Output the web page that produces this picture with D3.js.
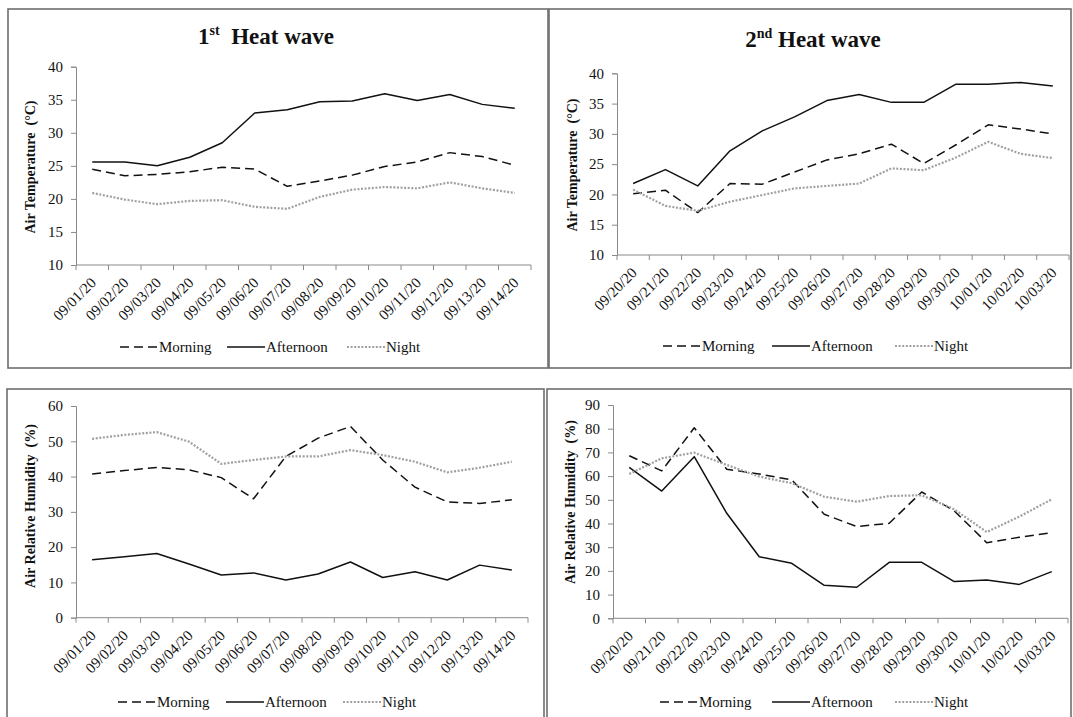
<!DOCTYPE html>
<html>
<head>
<meta charset="utf-8">
<script src="https://cdn.jsdelivr.net/npm/d3@7/dist/d3.min.js"></script>
<style>
  html, body { margin: 0; padding: 0; background: #fff; }
  svg { display: block; }
  svg text { font-family: "Liberation Serif", "Times New Roman", serif; fill: #111; }
</style>
</head>
<body>
<svg id="chart" width="1073" height="717" font-family="Liberation Serif, serif"></svg>
<script>
// Dates of the two heat waves
const dates1 = ["09/01/20","09/02/20","09/03/20","09/04/20","09/05/20","09/06/20","09/07/20",
                "09/08/20","09/09/20","09/10/20","09/11/20","09/12/20","09/13/20","09/14/20"];
const dates2 = ["09/20/20","09/21/20","09/22/20","09/23/20","09/24/20","09/25/20","09/26/20",
                "09/27/20","09/28/20","09/29/20","09/30/20","10/01/20","10/02/20","10/03/20"];

// Air temperature (°C), 1st heat wave
const temp1Morning   = [24.5, 23.5, 23.7, 24.1, 24.8, 24.5, 21.9, 22.7, 23.6, 24.9, 25.6, 27.0, 26.4, 25.1];
const temp1Afternoon = [25.6, 25.6, 25.0, 26.3, 28.5, 33.0, 33.5, 34.7, 34.8, 35.9, 34.9, 35.8, 34.3, 33.7];
const temp1Night     = [20.9, 19.9, 19.2, 19.7, 19.8, 18.8, 18.5, 20.3, 21.4, 21.8, 21.6, 22.5, 21.6, 20.9];

// Air temperature (°C), 2nd heat wave
const temp2Morning   = [20.1, 20.7, 17.0, 21.8, 21.7, 23.7, 25.7, 26.7, 28.3, 25.1, 28.2, 31.5, 30.8, 30.0];
const temp2Afternoon = [21.8, 24.1, 21.4, 27.2, 30.5, 32.8, 35.5, 36.5, 35.2, 35.2, 38.2, 38.2, 38.5, 37.9];
const temp2Night     = [20.8, 18.1, 17.3, 18.8, 19.9, 21.0, 21.4, 21.8, 24.3, 24.0, 26.1, 28.7, 26.7, 26.0];

// Air relative humidity (%), 1st heat wave
const rh1Morning   = [40.7, 41.7, 42.6, 41.9, 39.7, 33.7, 45.7, 50.9, 54.2, 44.7, 37.0, 32.8, 32.4, 33.4];
const rh1Afternoon = [16.4, 17.3, 18.2, 15.2, 12.1, 12.7, 10.7, 12.4, 15.8, 11.4, 13.0, 10.7, 14.9, 13.5];
const rh1Night     = [50.7, 51.8, 52.6, 49.9, 43.6, 44.7, 45.7, 45.7, 47.5, 46.1, 44.2, 41.2, 42.5, 44.2];

// Air relative humidity (%), 2nd heat wave
const rh2Morning   = [68.6, 62.2, 80.4, 62.9, 60.9, 58.4, 43.9, 38.7, 40.1, 53.3, 45.3, 31.9, 34.2, 36.1];
const rh2Afternoon = [63.7, 53.7, 68.2, 44.3, 26.0, 23.2, 13.9, 13.1, 23.6, 23.6, 15.5, 16.2, 14.3, 19.7];
const rh2Night     = [60.9, 67.5, 69.9, 64.7, 59.8, 57.0, 51.3, 49.2, 51.6, 51.9, 46.0, 36.4, 42.9, 50.2];

// Y tick values
const tempTicks = [10, 15, 20, 25, 30, 35, 40];
const rh1Ticks  = [0, 10, 20, 30, 40, 50, 60];
const rh2Ticks  = [0, 10, 20, 30, 40, 50, 60, 70, 80, 90];

const seriesNames = ["Morning", "Afternoon", "Night"];

const SERIF = '"Liberation Serif", "Times New Roman", serif';

// Line styles for the three times of day
const styles = {
  Morning:   { stroke: "#111", width: 1.5, dash: "9,5" },
  Afternoon: { stroke: "#111", width: 1.5, dash: null },
  Night:     { stroke: "#a0a0a0", width: 2.2, dash: "2,1.6" }
};

const svg = d3.select("#chart");

const panels = [
  { box: [8, 9, 548, 368], dates: dates1, series: [temp1Morning, temp1Afternoon, temp1Night],
    ticks: tempTicks, domain: [10, 40], plot: { x0: 76, x1: 531, yTop: 66.7, yBot: 265 },
    title: ["1", "st", "  Heat wave"], titleX: 266, titleY: 44,
    ylabel: "Air Temperature  (°C)", ylabelX: 35, ylabelY: 167,
    legendY: 347, legendX: [120, 227, 347] },
  { box: [549, 9, 1071, 368], dates: dates2, series: [temp2Morning, temp2Afternoon, temp2Night],
    ticks: tempTicks, domain: [10, 40], plot: { x0: 617, x1: 1069, yTop: 73.3, yBot: 255 },
    title: ["2", "nd", " Heat wave"], titleX: 813, titleY: 47,
    ylabel: "Air Temperature  (°C)", ylabelX: 577, ylabelY: 165,
    legendY: 346, legendX: [663, 772, 895] },
  { box: [7, 389, 544, 720], dates: dates1, series: [rh1Morning, rh1Afternoon, rh1Night],
    ticks: rh1Ticks, domain: [0, 60], plot: { x0: 76, x1: 528, yTop: 406, yBot: 617.7 },
    title: null,
    ylabel: "Air Relative Humidity  (%)", ylabelX: 35, ylabelY: 506,
    legendY: 702, legendX: [118, 226, 343] },
  { box: [547, 389, 1071, 720], dates: dates2, series: [rh2Morning, rh2Afternoon, rh2Night],
    ticks: rh2Ticks, domain: [0, 90], plot: { x0: 613, x1: 1068, yTop: 405, yBot: 618.3 },
    title: null,
    ylabel: "Air Relative Humidity  (%)", ylabelX: 575, ylabelY: 502,
    legendY: 702, legendX: [660, 772, 895] }
];

panels.forEach(p => {
  const g = svg.append("g").attr("font-family", SERIF);

  // Panel frame
  g.append("rect")
    .attr("x", p.box[0]).attr("y", p.box[1])
    .attr("width", p.box[2] - p.box[0]).attr("height", p.box[3] - p.box[1])
    .attr("fill", "#fff").attr("stroke", "#6e6e6e").attr("stroke-width", 1.6);

  const x = d3.scaleBand().domain(p.dates).range([p.plot.x0, p.plot.x1]);
  const y = d3.scaleLinear().domain(p.domain).range([p.plot.yBot, p.plot.yTop]);
  const cx = d => x(d) + x.bandwidth() / 2;

  // Y axis
  const yAxis = g.append("g")
    .attr("transform", `translate(${p.plot.x0},0)`)
    .call(d3.axisLeft(y).tickValues(p.ticks).tickSize(5).tickPadding(8).tickFormat(d3.format("d")))
    .attr("font-family", SERIF).attr("font-size", 15);
  yAxis.select(".domain").attr("stroke", "#8a8a8a");
  yAxis.selectAll(".tick line").attr("stroke", "#8a8a8a");
  yAxis.selectAll(".tick text")
    .style("font-family", SERIF).style("font-size", "15px").attr("fill", "#111");

  // X axis line with ticks on band boundaries
  const xAxis = g.append("g").attr("transform", `translate(0,${p.plot.yBot})`);
  xAxis.append("line")
    .attr("x1", p.plot.x0).attr("x2", p.plot.x1)
    .attr("stroke", "#8a8a8a");
  const bounds = p.dates.map(d => x(d)).concat([x.range()[1]]);
  xAxis.selectAll("line.tk").data(bounds).join("line").attr("class", "tk")
    .attr("x1", d => d).attr("x2", d => d).attr("y1", 0).attr("y2", 5)
    .attr("stroke", "#8a8a8a");
  xAxis.selectAll("text.lbl").data(p.dates).join("text").attr("class", "lbl")
    .attr("transform", d => `translate(${cx(d) + 1},15) rotate(-45)`)
    .attr("text-anchor", "end").attr("dy", "0.35em")
    .style("font-family", SERIF).style("font-size", "15px")
    .text(d => d);

  // Series lines
  const line = d3.line().x((v, i) => cx(p.dates[i])).y(v => y(v));
  seriesNames.forEach((name, k) => {
    const s = styles[name];
    g.append("path")
      .datum(p.series[k])
      .attr("d", line)
      .attr("fill", "none")
      .attr("stroke", s.stroke)
      .attr("stroke-width", s.width)
      .attr("stroke-dasharray", s.dash)
      .attr("stroke-linejoin", "round");
  });

  // Title with superscript ordinal
  if (p.title) {
    const t = g.append("text")
      .attr("x", p.titleX).attr("y", p.titleY)
      .attr("text-anchor", "middle")
      .attr("xml:space", "preserve")
      .style("font-family", SERIF)
      .style("font-weight", "bold").style("font-size", "23px");
    t.append("tspan").text(p.title[0]);
    t.append("tspan").attr("dy", -9).style("font-size", "14px").text(p.title[1]);
    t.append("tspan").attr("dy", 9).text(p.title[2]);
  }

  // Y axis title
  g.append("text")
    .attr("transform", `translate(${p.ylabelX},${p.ylabelY}) rotate(-90)`)
    .attr("text-anchor", "middle")
    .attr("xml:space", "preserve")
    .style("font-family", SERIF)
    .style("font-weight", "bold").style("font-size", "14px")
    .text(p.ylabel);

  // Legend
  seriesNames.forEach((name, k) => {
    const s = styles[name];
    const lx = p.legendX[k];
    g.append("line")
      .attr("x1", lx).attr("x2", lx + 38)
      .attr("y1", p.legendY).attr("y2", p.legendY)
      .attr("stroke", s.stroke).attr("stroke-width", s.width)
      .attr("stroke-dasharray", s.dash);
    g.append("text")
      .attr("x", lx + 39).attr("y", p.legendY).attr("dy", "0.35em")
      .style("font-family", SERIF).style("font-size", "15px")
      .text(name);
  });
});
</script>
</body>
</html>
